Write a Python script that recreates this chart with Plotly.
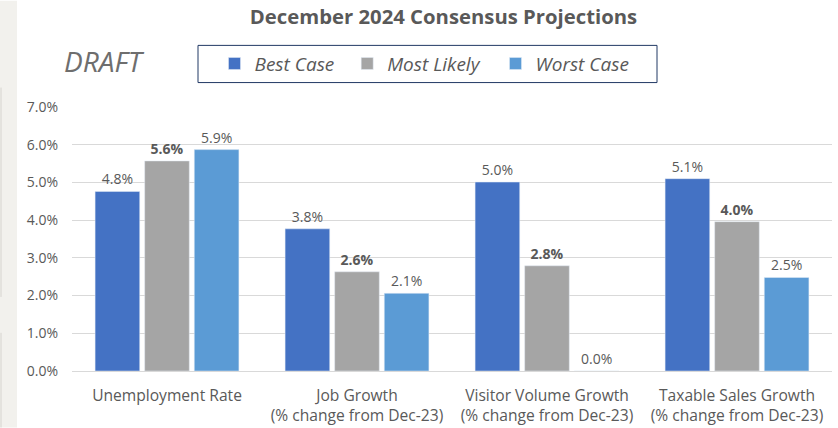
import plotly.graph_objects as go

categories = [
    "Unemployment Rate",
    "Job Growth<br>(% change from Dec-23)",
    "Visitor Volume Growth<br>(% change from Dec-23)",
    "Taxable Sales Growth<br>(% change from Dec-23)",
]
best_case = [4.76, 3.77, 5.01, 5.10]
most_likely = [5.57, 2.63, 2.79, 3.96]
worst_case = [5.87, 2.06, 0.0, 2.48]
y_ticks = [0, 1, 2, 3, 4, 5, 6, 7]
y_tick_labels = ["0.0%", "1.0%", "2.0%", "3.0%", "4.0%", "5.0%", "6.0%", "7.0%"]

FONT = "Open Sans"
TXT = "#595959"

fig = go.Figure()
fig.add_trace(go.Bar(
    name="Best Case", x=categories, y=best_case, legend="legend",
    marker=dict(color="#4472C4"),
    texttemplate="%{y:.1f}%", textposition="outside",
    textfont=dict(family=FONT, size=14, color=TXT),
    cliponaxis=False,
))
fig.add_trace(go.Bar(
    name="Most Likely", x=categories, y=most_likely, legend="legend2",
    marker=dict(color="#A5A5A5"),
    texttemplate="<b>%{y:.1f}%</b>", textposition="outside",
    textfont=dict(family=FONT, size=14, color=TXT),
    cliponaxis=False,
))
fig.add_trace(go.Bar(
    name="Worst Case", x=categories, y=worst_case, legend="legend3",
    marker=dict(color="#5B9BD5"),
    texttemplate="%{y:.1f}%", textposition="outside",
    textfont=dict(family=FONT, size=14, color=TXT),
    cliponaxis=False,
))

L, R, T, B = 72, 6, 106.5, 56.7
H = 428 - T - B
W = 838 - L - R

def px_x(x):
    return (x - L) / W

def px_y(y):
    return (428 - B - y) / H

def legend_at(xpx):
    return dict(
        orientation="h",
        x=px_x(xpx), xanchor="left",
        y=px_y(63), yanchor="middle",
        bgcolor="rgba(0,0,0,0)", borderwidth=0,
        font=dict(family=FONT, size=19, color=TXT, style="italic"),
    )

fig.update_layout(
    width=838, height=428,
    margin=dict(l=L, r=R, t=T, b=B, pad=0, autoexpand=False),
    paper_bgcolor="white", plot_bgcolor="white",
    barmode="group", bargap=0.217, bargroupgap=0.1,
    font=dict(family=FONT, color=TXT),
    title=dict(
        text="<b>December 2024 Consensus Projections</b>",
        font=dict(family=FONT, size=20.3, color=TXT),
        x=443.5 / 838, xanchor="center", xref="container",
        y=1 - 17 / 428, yanchor="middle", yref="container",
    ),
    showlegend=True,
    legend=legend_at(214.5),
    legend2=legend_at(347.2),
    legend3=legend_at(495.5),
    xaxis=dict(
        showgrid=False, showline=False, ticks="",
        tickfont=dict(family=FONT, size=15.6, color=TXT),
        ticklabelstandoff=13, automargin=False,
        fixedrange=True,
    ),
    yaxis=dict(
        range=[0, 7], tickvals=y_ticks, ticktext=y_tick_labels,
        showgrid=True, gridcolor="#D9D9D9", gridwidth=1,
        zeroline=True, zerolinecolor="#D9D9D9", zerolinewidth=1,
        showline=False, ticks="",
        tickfont=dict(family=FONT, size=14, color=TXT),
        ticklabelstandoff=13, automargin=False,
        fixedrange=True,
    ),
    shapes=[
        dict(type="rect", xref="paper", yref="paper",
             x0=px_x(0), x1=px_x(17), y0=px_y(428), y1=px_y(0),
             fillcolor="#F2F1ED", line=dict(width=0), layer="below"),
        dict(type="line", xref="paper", yref="paper",
             x0=px_x(1), x1=px_x(1), y0=px_y(297), y1=px_y(87),
             line=dict(color="#D6D4CF", width=1)),
        dict(type="line", xref="paper", yref="paper",
             x0=px_x(1), x1=px_x(1), y0=px_y(428), y1=px_y(333),
             line=dict(color="#D6D4CF", width=1)),
        dict(type="rect", xref="paper", yref="paper",
             x0=px_x(198), x1=px_x(657), y0=px_y(82), y1=px_y(44.7),
             fillcolor="rgba(0,0,0,0)", line=dict(color="#203864", width=1)),
    ],
    annotations=[
        dict(text="<i>DRAFT</i>", xref="paper", yref="paper",
             x=px_x(104), y=px_y(60), xanchor="center", yanchor="middle",
             showarrow=False, font=dict(family=FONT, size=28, color="#6E6E6E")),
    ],
)

fig.write_html(
    "out.html",
    config={"displayModeBar": False},
    post_script="document.body.style.margin='0';",
)
